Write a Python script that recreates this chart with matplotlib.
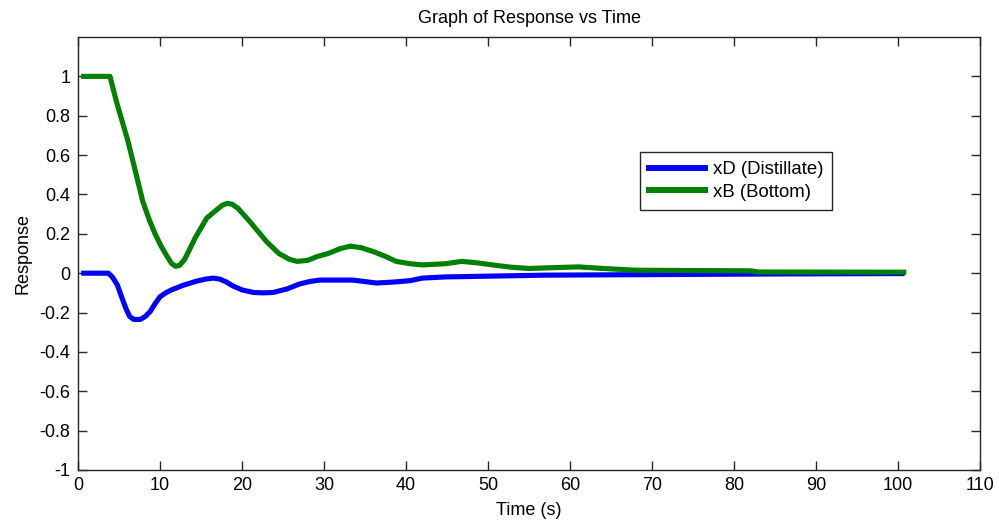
import matplotlib
matplotlib.use("Agg")
import matplotlib.pyplot as plt

# Distillate composition response
t_xd = [0.7, 3.7, 4.2, 4.8, 5.4, 5.9, 6.3, 6.8, 7.6, 8.2, 8.8, 9.4, 10.0, 10.7,
        11.4, 12.8, 14.5, 15.6, 16.5, 17.3, 18.1, 18.9, 20.0, 21.4, 22.5, 23.8,
        25.5, 27.0, 28.3, 29.5, 33.5, 36.4, 38.5, 40.5, 42.0, 44.8, 57.0, 71.0,
        85.0, 100.5]
xd = [0.0, 0.0, -0.02, -0.06, -0.13, -0.185, -0.22, -0.235, -0.235, -0.22,
      -0.195, -0.155, -0.12, -0.1, -0.085, -0.062, -0.04, -0.03, -0.025, -0.03,
      -0.045, -0.065, -0.085, -0.098, -0.1, -0.098, -0.08, -0.055, -0.042,
      -0.035, -0.035, -0.05, -0.045, -0.038, -0.025, -0.019, -0.01, -0.007,
      -0.004, -0.002]

# Bottom composition response
t_xb = [0.7, 3.9, 4.7, 6.1, 7.9, 8.7, 9.4, 10.1, 10.8, 11.4, 11.9, 12.4, 13.0,
        13.6, 14.3, 15.7, 17.0, 17.6, 18.2, 18.8, 19.5, 21.0, 23.0, 24.5, 25.8,
        26.7, 28.0, 29.2, 30.5, 32.0, 33.2, 34.5, 36.0, 37.5, 38.8, 40.5, 42.0,
        44.8, 46.8, 48.8, 50.9, 52.9, 55.0, 58.0, 61.0, 64.0, 68.0, 82.0, 83.0,
        100.7]
xb = [1.0, 1.0, 0.87, 0.67, 0.365, 0.27, 0.2, 0.14, 0.09, 0.05, 0.035, 0.04,
      0.07, 0.12, 0.18, 0.28, 0.325, 0.345, 0.355, 0.35, 0.33, 0.26, 0.16, 0.1,
      0.07, 0.06, 0.065, 0.085, 0.1, 0.125, 0.137, 0.13, 0.11, 0.085, 0.06,
      0.048, 0.042, 0.048, 0.06, 0.052, 0.04, 0.03, 0.024, 0.028, 0.032, 0.024,
      0.015, 0.012, 0.006, 0.005]

series_labels = ["xD (Distillate)", "xB (Bottom)"]
x_ticks = list(range(0, 111, 10))
y_ticks = [-1, -0.8, -0.6, -0.4, -0.2, 0, 0.2, 0.4, 0.6, 0.8, 1]

plt.rcParams["font.family"] = ["Liberation Sans", "DejaVu Sans"]
FS = 13.0

fig = plt.figure(figsize=(9.99, 5.23), dpi=100)
fig.patch.set_facecolor("white")
ax = fig.add_axes([78 / 999, 1 - 470 / 523, (980 - 78) / 999, (470 - 37) / 523])

ax.plot(t_xd, xd, color=(0, 0, 1), lw=3.7, label=series_labels[0])
ax.plot(t_xb, xb, color=(0, 0.5, 0), lw=3.7, label=series_labels[1])

ax.set_xlim(0, 110)
ax.set_ylim(-1, 1.2)
ax.set_xticks(x_ticks)
ax.set_yticks(y_ticks)
ax.set_yticklabels([f"{v:g}" for v in y_ticks])
ax.tick_params(direction="in", length=6.5, width=1, top=True, right=True,
               labelsize=FS, colors="#262626", labelcolor="black")
ax.tick_params(axis="y", pad=5.5)
ax.tick_params(axis="x", pad=5)
for sp in ax.spines.values():
    sp.set_color("#262626")
    sp.set_linewidth(1)

ax.set_title("Graph of Response vs Time", fontsize=FS, pad=10)
ax.set_xlabel("Time (s)", fontsize=FS, labelpad=6)
ax.set_ylabel("Response", fontsize=FS, labelpad=6)

leg = ax.legend(loc="upper left", bbox_to_anchor=(640 / 999, 1 - 152 / 523),
                bbox_transform=fig.transFigure, borderaxespad=0, fontsize=13.4,
                fancybox=False, framealpha=1, edgecolor="#262626",
                handlelength=3.0, handletextpad=0.4, labelspacing=0.28,
                borderpad=0.5)
leg.get_frame().set_linewidth(1)
for line in leg.get_lines():
    line.set_linewidth(4.3)

fig.savefig("out.png", dpi=100, facecolor="white")
